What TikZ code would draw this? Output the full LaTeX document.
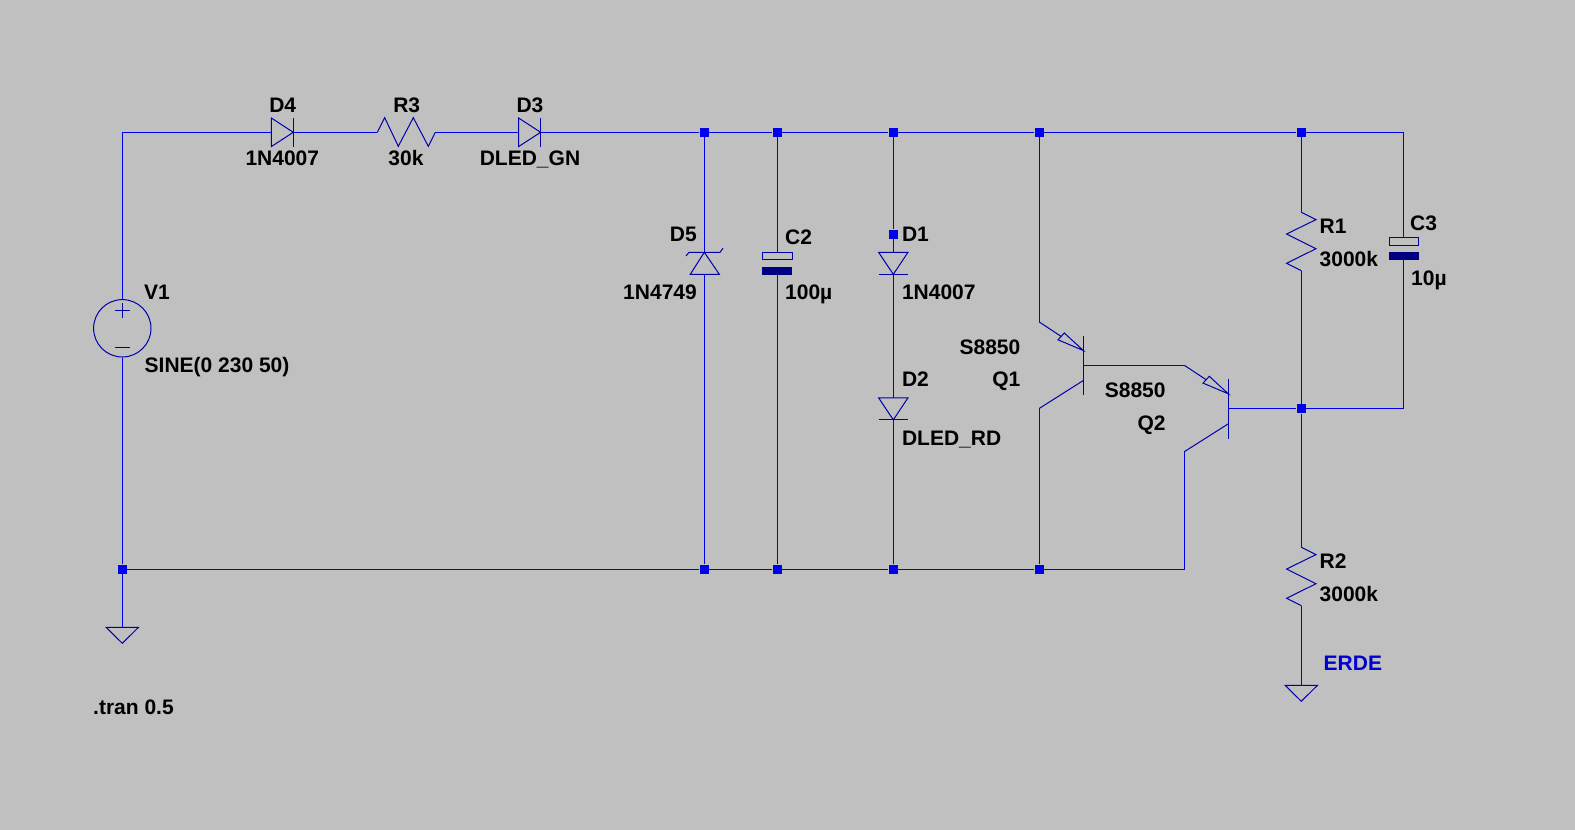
\documentclass[tikz,border=0pt]{standalone}
\usepackage{fontspec}
\setmainfont{Liberation Sans}
\usetikzlibrary{calc}
\definecolor{sheet}{RGB}{192,192,192}
\definecolor{netblue}{RGB}{0,0,235}
\definecolor{partblue}{RGB}{0,0,170}
\definecolor{plateblue}{RGB}{0,0,128}
\tikzset{
	wire/.style={line width=1.5pt, color=netblue},
	part/.style={line width=1pt, color=partblue, line join=miter},
	plate/.style={fill=plateblue, draw=none},
	jun/.style={rectangle, fill=netblue, inner sep=0pt, minimum size=9.6pt},
	lbl/.style={inner sep=0pt, yshift=-0.4pt, font=\fontsize{21pt}{25pt}\selectfont\bfseries, text=black},
	netlbl/.style={lbl, text=netblue!88!black}
}
% parts: #1 is the name, then the upper or left terminal
\def\diodeH#1(#2,#3){\coordinate (#1a) at (#2,#3); \coordinate (#1k) at (#2+22,#3);
	\draw[part] (#2,#3-14.3) -- (#2,#3+14.3) -- (#1k) -- cycle;
	\draw[part] (#2+22,#3-14.3) -- (#2+22,#3+14.3);}
\def\diodeV#1(#2,#3){\coordinate (#1a) at (#2,#3); \coordinate (#1k) at (#2,#3+22);
	\draw[part] (#2-14.7,#3) -- (#2+14.7,#3) -- (#1k) -- cycle;
	\draw[part] (#2-14.7,#3+22) -- (#2+14.7,#3+22);}
\def\resH#1(#2,#3){\coordinate (#1a) at (#2,#3); \coordinate (#1b) at (#2+58,#3);
	\draw[part] (#1a) -- (#2+7.4,#3-14.6) -- (#2+21,#3+14) -- (#2+36,#3-14.6) -- (#2+51,#3+14) -- (#1b);}
\def\resV#1(#2,#3){\coordinate (#1a) at (#2,#3); \coordinate (#1b) at (#2,#3+58.4);
	\draw[part] (#1a) -- (#2+14.7,#3+7.3) -- (#2-14.7,#3+21.7) -- (#2+14.7,#3+36.4) -- (#2-14.7,#3+51) -- (#1b);}
\def\capV#1(#2,#3){\coordinate (#1a) at (#2,#3); \coordinate (#1b) at (#2,#3+22.7);
	\draw[part] (#2-14.7,#3) rectangle (#2+14.7,#3+7.4);
	\fill[plate] (#2-15,#3+14.7) rectangle (#2+15,#3+22.7);}
\def\gndsym#1(#2,#3){\coordinate (#1) at (#2,#3);
	\draw[part] (#2-16.2,#3) -- (#2+16.2,#3) -- (#2,#3+16) -- cycle;}
\def\npnsym#1(#2,#3){\coordinate (#1e) at (#2,#3); \coordinate (#1c) at (#2,#3+86.4); \coordinate (#1b) at (#2+44,#3+43.3);
	\draw[part] (#1e) -- (#2+21.8,#3+14.4);
	\draw[part] (#2+44,#3+28.5) -- (#2+25,#3+11) -- (#2+18.7,#3+17.8) -- cycle;
	\draw[part] (#2+44,#3+14) -- (#2+44,#3+73.4);
	\draw[part] (#2+44,#3+58.5) -- (#1c);}

\begin{document}
\begin{tikzpicture}[x=1pt, y=-1pt]
	%%%%% SHEET %%%%%
	\useasboundingbox (0,0) rectangle (1575,830);
	\fill[sheet] (0,0) rectangle (1575,830);

	%%%%% PARTS %%%%%
	\diodeH{d4}(271.3,132.3)
	\resH{r3}(377.3,132.3)
	\diodeH{d3}(518.6,132.3)
	\diodeV{d1}(893.3,252.3)
	\diodeV{d2}(893.3,397.8)
	\capV{c2}(777.3,252.3)
	\capV{c3}(1403.7,237.7)
	\resV{r1}(1301.3,212.3)
	\resV{r2}(1301.3,547.3)
	\npnsym{q1}(1039.3,322)
	\npnsym{q2}(1184.3,365.3)
	\gndsym{gnda}(122.3,627.3)
	\gndsym{gndb}(1301.3,685.3)

	% zener
	\coordinate (d5k) at (704.3,252.3);
	\coordinate (d5a) at (704.3,274.3);
	\draw[part] (690.3,274.3) -- (719.3,274.3) -- (d5k) -- cycle;
	\draw[part] (686,256) -- (689,252.3) -- (720,252.3) -- (723,248.3);

	% source
	\node[draw=partblue, line width=1pt, circle, minimum size=57.4pt, inner sep=0pt] (v1) at (122.3,328.3) {};
	\draw[part] (115,310.7) -- (129.6,310.7);
	\draw[part] (122.3,303.4) -- (122.3,318);
	\draw[part] (115,347.3) -- (129.6,347.3);

	%%%%% NETS %%%%%
	\coordinate (cnrtl) at (122.3,132.3);
	\coordinate (cnrtr) at (1403.7,132.3);
	\coordinate (cnrbr) at (1403.7,408.6);
	\coordinate (railend) at (1184.3,569.3);

	\node[jun] (jtopa) at (704.3,132.3) {};
	\node[jun] (jtopb) at (777.3,132.3) {};
	\node[jun] (jtopc) at (893.3,132.3) {};
	\node[jun] (jtopd) at (1039.3,132.3) {};
	\node[jun] (jtope) at (1301.3,132.3) {};
	\node[jun] (jdone) at (893.3,234.3) {};
	\node[jun] (jmid) at (1301.3,408.6) {};
	\node[jun] (jbota) at (122.3,569.3) {};
	\node[jun] (jbotb) at (704.3,569.3) {};
	\node[jun] (jbotc) at (777.3,569.3) {};
	\node[jun] (jbotd) at (893.3,569.3) {};
	\node[jun] (jbote) at (1039.3,569.3) {};

	\draw[wire] (v1) -- (cnrtl) -- (d4a);
	\draw[wire] (d4k) -- (r3a);
	\draw[wire] (r3b) -- (d3a);
	\draw[wire] (d3k) -- (jtopa) -- (jtopb) -- (jtopc) -- (jtopd) -- (jtope) -- (cnrtr) -- (c3a);
	\draw[wire] (v1) -- (jbota) -- (jbotb) -- (jbotc) -- (jbotd) -- (jbote) -- (railend) -- (q2c);
	\draw[wire] (jbota) -- (gnda);

	\draw[wire] (jtopa) -- (d5k);
	\draw[wire] (d5a) -- (jbotb);
	\draw[wire] (jtopb) -- (c2a);
	\draw[wire] (c2b) -- (jbotc);
	\draw[wire] (jtopc) -- (jdone) -- (d1a);
	\draw[wire] (d1k) -- (d2a);
	\draw[wire] (d2k) -- (jbotd);

	\draw[wire] (jtopd) -- (q1e);
	\draw[wire] (q1c) -- (jbote);
	\draw[wire] (q1b) -- (q2e);
	\draw[wire] (q2b) -- (jmid) -- (cnrbr) -- (c3b);

	\draw[wire] (jtope) -- (r1a);
	\draw[wire] (r1b) -- (jmid) -- (r2a);
	\draw[wire] (r2b) -- (gndb);

	%%%%% LABELS %%%%%
	\node[lbl, anchor=base] (lbdfour) at (282.7,112) {D4};
	\node[lbl, anchor=base] (lbdfourv) at (282.3,165) {1N4007};
	\node[lbl, anchor=base] (lbrthree) at (406.7,112) {R3};
	\node[lbl, anchor=base] (lbrthreev) at (406,165) {30k};
	\node[lbl, anchor=base] (lbdthree) at (530,112) {D3};
	\node[lbl, anchor=base] (lbdthreev) at (530,165) {DLED\_GN};
	\node[lbl, anchor=base west] (lbvone) at (144,299) {V1};
	\node[lbl, anchor=base west] (lbvonev) at (144.5,372) {SINE(0 230 50)};
	\node[lbl, anchor=base east] (lbdfive) at (697,241) {D5};
	\node[lbl, anchor=base east] (lbdfivev) at (697,299) {1N4749};
	\node[lbl, anchor=base west] (lbctwo) at (785,244) {C2};
	\node[lbl, anchor=base west] (lbctwov) at (785,299) {100µ};
	\node[lbl, anchor=base west] (lbdone) at (901.8,241) {D1};
	\node[lbl, anchor=base west] (lbdonev) at (901.8,299) {1N4007};
	\node[lbl, anchor=base west] (lbdtwo) at (901.8,386) {D2};
	\node[lbl, anchor=base west] (lbdtwov) at (901.8,445) {DLED\_RD};
	\node[lbl, anchor=base east] (lbqonev) at (1020.5,354) {S8850};
	\node[lbl, anchor=base east] (lbqone) at (1020.5,386) {Q1};
	\node[lbl, anchor=base east] (lbqtwov) at (1165.8,397) {S8850};
	\node[lbl, anchor=base east] (lbqtwo) at (1165.8,430) {Q2};
	\node[lbl, anchor=base west] (lbrone) at (1319.5,233) {R1};
	\node[lbl, anchor=base west] (lbronev) at (1319.5,266) {3000k};
	\node[lbl, anchor=base west] (lbcthree) at (1410,230) {C3};
	\node[lbl, anchor=base west] (lbcthreev) at (1411,285) {10µ};
	\node[lbl, anchor=base west] (lbrtwo) at (1319.5,568.5) {R2};
	\node[lbl, anchor=base west] (lbrtwov) at (1319.5,601) {3000k};
	\node[netlbl, anchor=base west] (lberde) at (1323.5,670) {ERDE};
	\node[lbl, anchor=base west] (lbtran) at (93,714) {.tran 0.5};
\end{tikzpicture}
\end{document}
